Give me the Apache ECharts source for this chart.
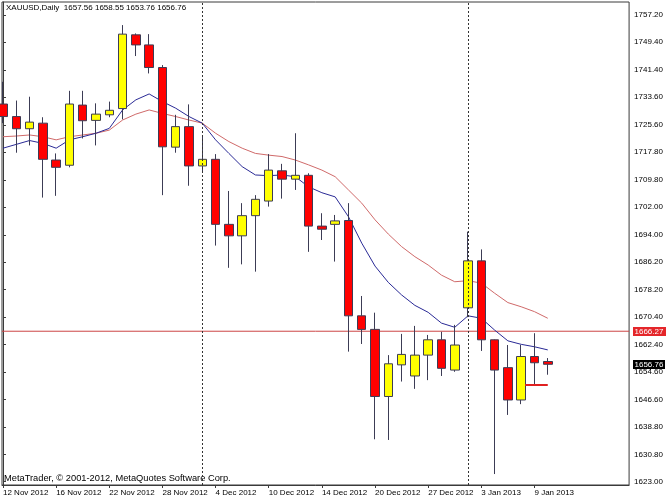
<!DOCTYPE html>
<html><head><meta charset="utf-8">
<script src="https://cdn.jsdelivr.net/npm/echarts@6/dist/echarts.min.js"></script>
<style>html,body{margin:0;padding:0;background:#fff}#c{width:666px;height:500px}</style>
</head><body><div id="c"></div>
<script>
const dates = ['12 Nov 2012','13 Nov 2012','14 Nov 2012','15 Nov 2012','16 Nov 2012','19 Nov 2012','20 Nov 2012','21 Nov 2012',
  '22 Nov 2012','23 Nov 2012','26 Nov 2012','27 Nov 2012','28 Nov 2012','29 Nov 2012','30 Nov 2012','3 Dec 2012',
  '4 Dec 2012','5 Dec 2012','6 Dec 2012','7 Dec 2012','10 Dec 2012','11 Dec 2012','12 Dec 2012','13 Dec 2012',
  '14 Dec 2012','17 Dec 2012','18 Dec 2012','19 Dec 2012','20 Dec 2012','21 Dec 2012','24 Dec 2012','26 Dec 2012',
  '27 Dec 2012','28 Dec 2012','31 Dec 2012','2 Jan 2013','3 Jan 2013','4 Jan 2013','7 Jan 2013','8 Jan 2013',
  '9 Jan 2013','10 Jan 2013'];
const openV  = [1731.6,1728.0,1724.5,1726.1,1715.5,1714.0,1731.3,1726.9,1728.5,1730.3,1751.5,1748.6,1742.1,1719.2,1725.1,1713.8,
  1715.7,1697.0,1693.7,1699.5,1703.7,1712.4,1710.0,1711.1,1696.5,1697.0,1698.1,1670.7,1666.8,1647.5,1656.6,1653.4,
  1659.4,1663.8,1655.1,1673.0,1686.5,1663.8,1655.8,1646.5,1659.0,1657.56];
const closeV = [1728.0,1724.5,1726.4,1715.7,1713.4,1731.6,1726.8,1728.7,1729.8,1751.7,1748.6,1742.1,1719.3,1725.1,1713.8,1715.7,
  1697.0,1693.7,1699.5,1704.2,1712.6,1710.0,1711.1,1696.5,1695.6,1698.0,1670.7,1666.8,1647.5,1656.9,1659.6,1659.4,
  1663.8,1655.6,1662.3,1686.5,1663.8,1655.1,1646.5,1659.0,1657.2,1656.76];
const lowV   = [1726.1,1717.6,1719.7,1704.7,1705.2,1713.4,1721.7,1719.7,1727.8,1727.2,1745.4,1740.4,1705.4,1717.6,1708.1,1711.9,
  1690.9,1684.5,1685.5,1683.4,1702.1,1704.4,1706.9,1689.1,1692.5,1686.3,1660.4,1662.6,1635.2,1635.0,1651.8,1649.7,
  1652.2,1653.4,1654.6,1670.3,1660.6,1625.2,1642.2,1645.3,1651.0,1653.76];
const highV  = [1738.0,1732.6,1733.7,1727.8,1717.4,1735.4,1735.4,1731.8,1732.3,1754.3,1751.9,1751.7,1742.8,1728.5,1731.5,1722.4,
  1717.2,1706.6,1703.1,1705.4,1717.2,1714.4,1723.2,1711.7,1700.2,1699.7,1703.1,1676.4,1671.6,1659.4,1665.5,1667.8,
  1665.2,1666.1,1668.1,1694.9,1689.8,1663.9,1662.3,1662.3,1665.7,1658.55];
const maFast = [1718.9,1720.0,1721.1,1720.3,1718.9,1721.3,1722.2,1723.2,1724.6,1729.9,1732.8,1734.5,1732.3,1730.4,1728.0,1726.1,
  1721.3,1717.4,1713.6,1711.2,1711.0,1711.2,1710.7,1707.8,1706.1,1704.9,1699.2,1691.6,1685.0,1680.3,1676.7,1673.7,
  1671.7,1668.6,1667.4,1670.7,1670.0,1666.6,1663.5,1662.5,1661.8,1660.9];
const maSlow = [1722.2,1722.4,1722.7,1722.2,1721.3,1722.2,1722.7,1723.2,1724.1,1727.0,1728.7,1729.9,1728.9,1728.0,1727.0,1726.1,
  1723.2,1720.8,1718.9,1717.4,1716.9,1716.5,1715.5,1714.1,1712.6,1710.7,1706.9,1703.1,1698.3,1694.2,1690.6,1687.7,
  1685.3,1682.4,1680.5,1680.8,1680.1,1677.2,1674.5,1673.3,1671.9,1670.0];
const yTicks = [1623.00,1630.80,1638.80,1646.60,1654.60,1662.40,1670.40,1678.20,1686.20,1694.00,1702.00,1709.80,
  1717.80,1725.60,1733.60,1741.40,1749.40,1757.20];
const xTickIdx = [0,4,8,12,16,20,24,28,32,36,40];
const monthStarts = [15, 35];
const headerText = 'XAUUSD,Daily  1657.56 1658.55 1653.76 1656.76';
const copyrightText = 'MetaTrader, \u00a9 2001-2012, MetaQuotes Software Corp.';
const levelPrice = 1666.27;
const lastPrice = 1656.76;
const stubPrice = 1651.0;
const stubRange = [39.3, 41];
const xRange = [-0.075, 47.12];

const FONT = '"Liberation Sans", Arial, sans-serif';
const chart = echarts.init(document.getElementById('c'), null, {renderer: 'canvas'});
chart.setOption({
  animation: false,
  backgroundColor: '#ffffff',
  grid: {left: 2, right: 34, top: 2, bottom: 15, show: true, borderColor: '#3a3a3a', borderWidth: 1, backgroundColor: '#ffffff'},
  xAxis: {
    type: 'value', min: xRange[0], max: xRange[1],
    axisLine: {show: true, lineStyle: {color: '#3a3a3a'}},
    axisTick: {show: true, customValues: xTickIdx, length: 3, lineStyle: {color: '#3a3a3a'}},
    axisLabel: {customValues: xTickIdx, formatter: v => dates[Math.round(v)], align: 'left', fontSize: 8, fontFamily: FONT, color: '#000', margin: 4},
    splitLine: {show: false}
  },
  yAxis: {
    type: 'value', position: 'right', min: 1622.05, max: 1760.94, scale: true,
    axisLine: {show: true, lineStyle: {color: '#3a3a3a'}},
    axisTick: {show: true, customValues: yTicks, length: 3, lineStyle: {color: '#3a3a3a'}},
    axisLabel: {customValues: yTicks, formatter: v => v.toFixed(2), fontSize: 8, fontFamily: FONT, color: '#000', margin: 5},
    splitLine: {show: false}
  },
  series: [
    {
      type: 'line', name: 'level', z: 1, showSymbol: false, silent: true,
      data: xRange.map(x => [x, levelPrice]),
      lineStyle: {color: '#cc4444', width: 1, type: 'solid'},
      itemStyle: {color: '#cc4444'}
    },
    {
      type: 'line', name: 'slow', z: 1, showSymbol: false, silent: true,
      data: maSlow.map((v, i) => [i, v]),
      lineStyle: {color: '#d06a6a', width: 1},
      markLine: {
        silent: true, symbol: ['none', 'none'], animation: false,
        label: {show: false},
        data: [
          {xAxis: monthStarts[0], lineStyle: {color: '#333', width: 1, type: [2, 2]}},
          {xAxis: monthStarts[1], lineStyle: {color: '#333', width: 1, type: [2, 2]}},
          [{coord: [stubRange[0], stubPrice], lineStyle: {color: '#e02020', width: 2, type: 'solid'}},
           {coord: [stubRange[1], stubPrice]}]
        ]
      }
    },
    {
      type: 'line', name: 'fast', z: 1, showSymbol: false, silent: true,
      data: maFast.map((v, i) => [i, v]),
      lineStyle: {color: '#2a2a96', width: 1}
    },
    {
      type: 'candlestick', z: 3, barWidth: 9,
      encode: {x: 0, y: [1, 2, 3, 4]},
      data: dates.map((d, i) => [i, openV[i], closeV[i], lowV[i], highV[i]]),
      itemStyle: {color: '#ffff00', color0: '#ff0000', borderColor: '#3c3c55', borderColor0: '#3c3c55', borderWidth: 1}
    }
  ]
});

// price tags on the right axis, placed via the chart's own y scale
const gridRight = 666 - 34;
function priceTag(price, bg, w) {
  const y = chart.convertToPixel({yAxisIndex: 0}, price);
  return {
    type: 'group', x: gridRight + 1, y: Math.round(y) - 4, z: 100,
    children: [
      {type: 'rect', shape: {x: 0, y: 0, width: w, height: 9}, style: {fill: bg}},
      {type: 'text', x: 1.5, y: 4.5, style: {text: price.toFixed(2), font: '8px ' + FONT, fill: '#fff', verticalAlign: 'middle', align: 'left'}}
    ]
  };
}
chart.setOption({
  graphic: [
    {type: 'text', left: 6, top: 4, style: {text: headerText, font: '8px ' + FONT, fill: '#000'}},
    {type: 'text', left: 4, top: 474, style: {text: copyrightText, font: '9.3px ' + FONT, fill: '#000'}},
    priceTag(levelPrice, '#e4262a', 33),
    priceTag(lastPrice, '#000000', 32)
  ]
});
</script></body></html>
